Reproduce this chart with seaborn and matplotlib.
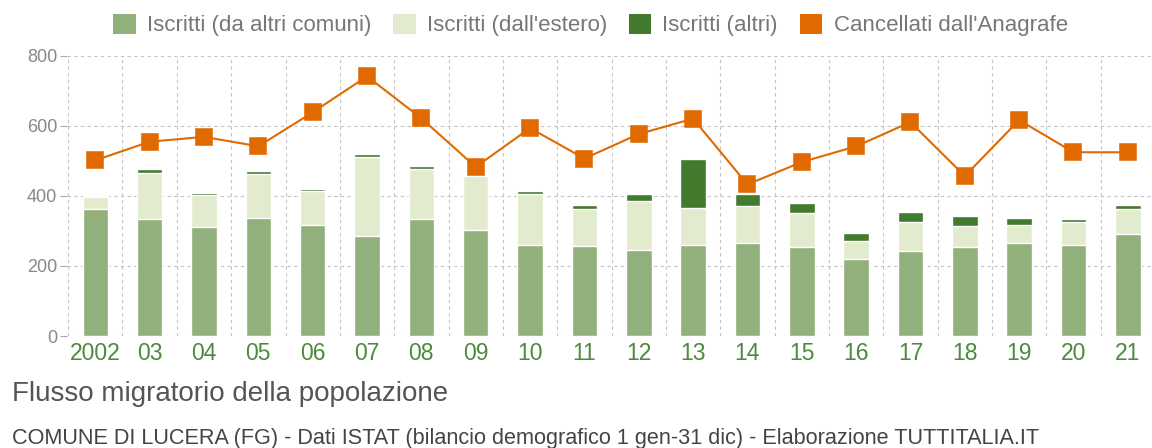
import matplotlib
matplotlib.use("Agg")
import matplotlib.pyplot as plt
import seaborn as sns
import numpy as np
import pandas as pd
from matplotlib.patches import Patch

years = ["2002", "03", "04", "05", "06", "07", "08", "09", "10", "11",
         "12", "13", "14", "15", "16", "17", "18", "19", "20", "21"]
iscritti_comuni = [362, 334, 311, 337, 316, 287, 333, 304, 259, 256,
                   247, 259, 267, 255, 220, 243, 253, 265, 259, 290]
iscritti_estero = [36, 131, 91, 127, 97, 223, 143, 153, 148, 107,
                   139, 107, 105, 97, 52, 84, 62, 51, 67, 72]
iscritti_altri = [3, 11, 6, 6, 6, 11, 11, 4, 6, 11,
                  20, 141, 33, 27, 23, 28, 28, 20, 7, 11]
cancellati = [502, 555, 569, 542, 639, 742, 622, 483, 594, 507,
              577, 621, 433, 497, 542, 611, 457, 617, 525, 525]
yticks = [0, 200, 400, 600, 800]

labels = ["Iscritti (da altri comuni)", "Iscritti (dall'estero)",
          "Iscritti (altri)", "Cancellati dall'Anagrafe"]
c_comuni = "#92b07c"
c_estero = "#e3ebcf"
c_altri = "#427a2e"
c_canc = "#e06a00"

df = pd.DataFrame({
    "anno": years,
    "comuni": iscritti_comuni,
    "estero": iscritti_estero,
    "altri": iscritti_altri,
    "canc": cancellati,
})
df["lvl2"] = df["comuni"] + df["estero"]
df["lvl3"] = df["lvl2"] + df["altri"]

sns.set_theme(style="white")
plt.rcParams["font.family"] = ["Liberation Sans", "DejaVu Sans"]

fig = plt.figure(figsize=(11.52, 4.48), dpi=100)
ax = fig.add_axes([0.0582, 0.25, 0.9444, 0.625])

bw = 0.47
sns.barplot(data=df, x="anno", y="lvl3", color=c_altri, width=bw, saturation=1, ax=ax, zorder=2)
sns.barplot(data=df, x="anno", y="lvl2", color=c_estero, width=bw, saturation=1, ax=ax, zorder=2)
sns.barplot(data=df, x="anno", y="comuni", color=c_comuni, width=bw, saturation=1, ax=ax, zorder=2)
sns.pointplot(data=df, x="anno", y="canc", color=c_canc, markers="s",
              markersize=12, linewidth=1.5, ax=ax, zorder=5)

ax.set_xlim(-0.52, 19.48)
ax.set_ylim(0, 800)
ax.set_yticks(yticks)
ax.set_yticklabels([str(v) for v in yticks])
ax.set_xlabel("")
ax.set_ylabel("")

for s in ax.spines.values():
    s.set_visible(False)

ax.set_xticks(np.arange(-0.5, 20, 1), minor=True)
ax.grid(False)
ax.grid(True, which="minor", axis="x", color="#c4c4c4", linestyle=(0, (3, 3)), linewidth=0.8, zorder=0)
ax.grid(True, which="major", axis="y", color="#c4c4c4", linestyle=(0, (3, 3)), linewidth=0.8, zorder=0)
ax.set_axisbelow(True)

ax.tick_params(axis="y", which="major", length=5, width=0.8, color="#aaaaaa",
               labelcolor="#888888", labelsize=13, pad=2, left=True)
ax.tick_params(axis="x", which="both", length=0, labelcolor="#4b8b3b", labelsize=16.5, pad=4)
ax.tick_params(axis="x", which="minor", bottom=False)

handles = [Patch(facecolor=c, edgecolor="none") for c in (c_comuni, c_estero, c_altri, c_canc)]
fig.legend(handles, labels, loc="center", bbox_to_anchor=(0.5126, 1 - 25 / 448), ncol=4,
           frameon=False, fontsize=16, handlelength=1.0, handleheight=1.0,
           handletextpad=0.5, columnspacing=1.0, labelcolor="#777777")

fig.text(12 / 1152, 1 - 401 / 448, "Flusso migratorio della popolazione",
         fontsize=20, color="#555555", va="baseline", ha="left")
fig.text(12 / 1152, 1 - 444 / 448,
         "COMUNE DI LUCERA (FG) - Dati ISTAT (bilancio demografico 1 gen-31 dic) - Elaborazione TUTTITALIA.IT",
         fontsize=15.6, color="#444444", va="baseline", ha="left")

fig.savefig("out.png", dpi=100, facecolor="white")
